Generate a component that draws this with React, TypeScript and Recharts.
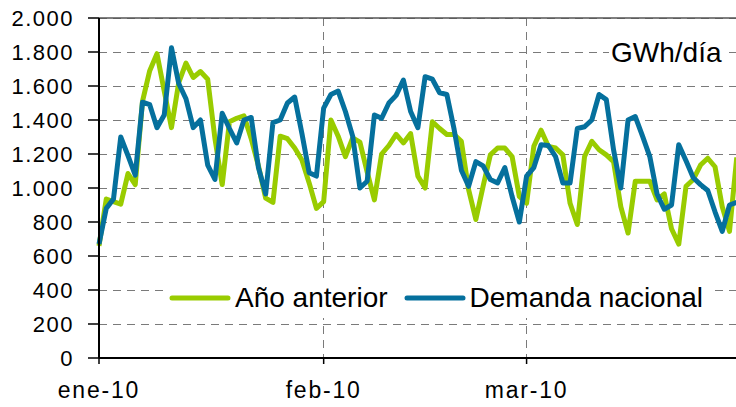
import React from 'react';
import { LineChart, Line, XAxis, YAxis, CartesianGrid, Legend, ReferenceLine } from 'recharts';

// Daily values, Jan 1 (index 0) to Mar 29 (index 88)
const demandaNacional = [
  670, 880, 935, 1300, 1190, 1075, 1505, 1490, 1355, 1430,
  1825, 1615, 1525, 1355, 1400, 1135, 1050, 1440, 1350, 1265,
  1400, 1415, 1120, 965, 1385, 1400, 1500, 1535, 1320, 1090,
  1070, 1470, 1550, 1570, 1450, 1305, 1000, 1040, 1430, 1410,
  1500, 1545, 1635, 1450, 1355, 1655, 1640, 1560, 1550, 1345,
  1105, 1010, 1155, 1130, 1050, 1030, 1120, 950, 800, 1070,
  1120, 1255, 1250, 1185, 1030, 1030, 1350, 1360, 1400, 1550,
  1520, 1225, 1000, 1400, 1420, 1305, 1185, 965, 875, 900,
  1255, 1160, 1060, 1020, 985, 860, 745, 900, 915,
];

const anoAnterior = [
  660, 935, 920, 905, 1085, 1020, 1510, 1690, 1790, 1570,
  1355, 1620, 1735, 1650, 1685, 1640, 1290, 1020, 1390, 1410,
  1425, 1290, 1130, 940, 915, 1305, 1290, 1235, 1165, 1030,
  880, 920, 1400, 1305, 1185, 1295, 1270, 1095, 930, 1200,
  1250, 1315, 1265, 1320, 1070, 1000, 1390, 1350, 1315, 1315,
  1275, 990, 815, 1010, 1195, 1235, 1235, 1185, 950, 910,
  1245, 1340, 1245, 1235, 1195, 910, 785, 1185, 1275, 1225,
  1195, 1155, 890, 735, 1040, 1040, 1040, 930, 965, 760,
  670, 1010, 1050, 1135, 1175, 1125, 890, 745, 1180,
];

const monthTicks = [0, 31, 59];
const monthLabels = ['ene-10', 'feb-10', 'mar-10'];
const yTicks = [0, 200, 400, 600, 800, 1000, 1200, 1400, 1600, 1800, 2000];
const seriesNames = ['Año anterior', 'Demanda nacional'];
const unitLabel = 'GWh/día';

const data = demandaNacional.map((v, i) => ({ d: i, demanda: v, anterior: anoAnterior[i] }));

const FONT = "'Liberation Sans', Arial, sans-serif";
const GREEN = '#99CC00';
const BLUE = '#05709D';

const fmtY = (v: number) => {
  if (v < 1000) return String(v);
  return `${Math.floor(v / 1000)}.${String(v % 1000).padStart(3, '0')}`;
};

const renderLegend = (props: any) => {
  const payload = props.payload || [];
  return (
    <div
      style={{
        display: 'flex',
        alignItems: 'center',
        height: 40,
        background: '#fff',
        fontFamily: FONT,
        fontSize: 28,
        color: '#000',
        whiteSpace: 'nowrap',
      }}
    >
      {payload.map((e: any, i: number) => (
        <div key={i} style={{ display: 'flex', alignItems: 'center', marginLeft: i ? 16 : 4 }}>
          <svg width={62} height={10} style={{ display: 'block' }}>
            <line x1={3} y1={5} x2={59} y2={5} stroke={e.color} strokeWidth={5} strokeLinecap="round" />
          </svg>
          <span style={{ marginLeft: 4, lineHeight: '32px' }}>{e.value}</span>
        </div>
      ))}
    </div>
  );
};

export default function App() {
  return (
    <div style={{ position: 'absolute', left: 0, top: 0, width: 736, height: 407, overflow: 'hidden', background: '#fff' }}>
      <LineChart width={744} height={407} data={data} margin={{ top: 18, right: 0, bottom: 0, left: 0 }}>
        <CartesianGrid stroke="#7a7a7a" strokeDasharray="8 6" strokeWidth={1} shapeRendering="crispEdges" />
        <ReferenceLine y={2000} stroke="#555" strokeWidth={1.5} />
        <XAxis
          type="number"
          dataKey="d"
          domain={[0, 89]}
          ticks={monthTicks}
          interval={0}
          tickFormatter={(v: number) => monthLabels[monthTicks.indexOf(v)]}
          height={49}
          tickSize={6}
          tickMargin={18}
          axisLine={{ stroke: '#000', strokeWidth: 2 }}
          tickLine={{ stroke: '#000', strokeWidth: 1.5 }}
          tick={{ fill: '#000', fontSize: 23, fontFamily: FONT, letterSpacing: 1.8 }}
        />
        <YAxis
          type="number"
          domain={[0, 2000]}
          ticks={yTicks}
          interval={0}
          tickFormatter={fmtY}
          width={99}
          tickSize={11}
          tickMargin={14}
          axisLine={{ stroke: '#000', strokeWidth: 2 }}
          tickLine={{ stroke: '#000', strokeWidth: 1.5 }}
          tick={{ fill: '#000', fontSize: 22, fontFamily: FONT, letterSpacing: 1.5 }}
        />
        <Line
          type="linear"
          dataKey="anterior"
          name={seriesNames[0]}
          stroke={GREEN}
          strokeWidth={5}
          strokeLinejoin="round"
          dot={false}
          activeDot={false}
          isAnimationActive={false}
        />
        <Line
          type="linear"
          dataKey="demanda"
          name={seriesNames[1]}
          stroke={BLUE}
          strokeWidth={5}
          strokeLinejoin="round"
          dot={false}
          activeDot={false}
          isAnimationActive={false}
        />
        <Legend
          layout="horizontal"
          verticalAlign="middle"
          align="center"
          content={renderLegend}
          wrapperStyle={{ position: 'absolute', left: 165, top: 278, width: 545, height: 40 }}
        />
      </LineChart>
      <div
        style={{
          position: 'absolute',
          left: 609,
          top: 38,
          width: 118,
          height: 30,
          lineHeight: '30px',
          background: '#fff',
          fontFamily: FONT,
          fontSize: 28,
          color: '#000',
          paddingLeft: 2,
          boxSizing: 'border-box',
          whiteSpace: 'nowrap',
        }}
      >
        {unitLabel}
      </div>
    </div>
  );
}
